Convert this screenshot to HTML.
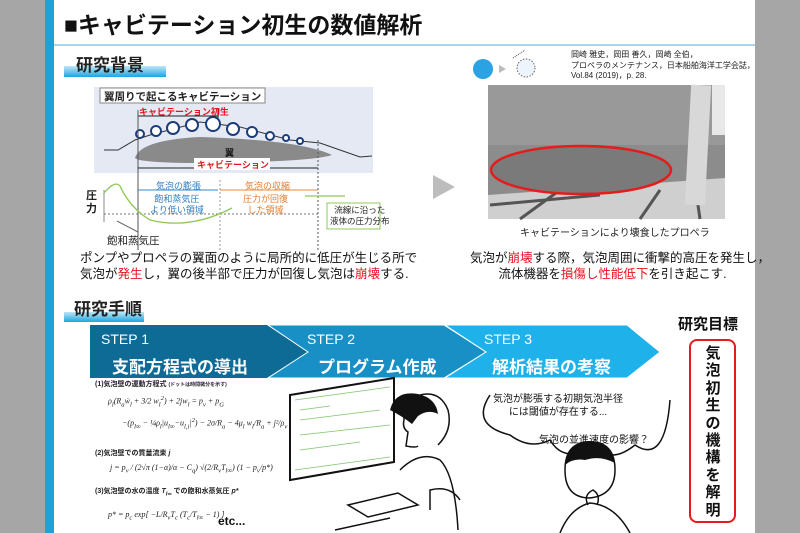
<!DOCTYPE html>
<html><head><meta charset="utf-8">
<style>
html,body{margin:0;padding:0;}
body{width:800px;height:533px;overflow:hidden;background:#fff;position:relative;font-family:"Liberation Sans","Noto Sans CJK JP",sans-serif;}
.a{position:absolute;white-space:nowrap;}
.ser{font-family:"Liberation Serif","Noto Serif CJK SC",serif;font-style:italic;}
.red{color:#e8141e;}
</style></head><body>
<div class="a" style="left:0;top:0;width:45px;height:533px;background:#a6a6a6"></div>
<div class="a" style="left:45px;top:0;width:9px;height:533px;background:#1ba1dc"></div>
<div class="a" style="left:755px;top:0;width:45px;height:533px;background:#a6a6a6"></div>
<div class="a" style="left:54px;top:44px;width:701px;height:2px;background:#a6d6e8"></div>

<div class="a" style="left:64px;top:6px;font-size:23px;font-weight:bold;color:#111">■キャビテーション初生の数値解析</div>

<div class="a" style="left:64px;top:66px;width:102px;height:11px;background:linear-gradient(#bfe6f6,#1aa6e0)"></div>
<div class="a" style="left:76px;top:51px;font-size:17px;font-weight:bold;color:#222">研究背景</div>
<div class="a" style="left:64px;top:312px;width:80px;height:10px;background:linear-gradient(#bfe6f6,#1aa6e0)"></div>
<div class="a" style="left:74px;top:295px;font-size:17px;font-weight:bold;color:#222">研究手順</div>

<svg class="a" style="left:0;top:0" width="800" height="533" xmlns="http://www.w3.org/2000/svg">
 <rect x="94" y="87" width="279" height="86" fill="#e4e9f4"/>
 <rect x="100" y="88" width="165" height="15" fill="#fff" stroke="#888" stroke-width="1"/>
 <path d="M135,158 Q140,140 200,137 Q300,140 332,155 Q310,162 200,163 Q140,163 135,158z" fill="#8a8a8a"/>
 <polyline points="104,150 118,150 135,140 150,135 200,122 240,127 290,140 320,143 340,150 360,157 372,156" fill="none" stroke="#333" stroke-width="1"/>
 <g fill="#fff" stroke="#1c3d7c" stroke-width="2">
  <circle cx="140" cy="134" r="4"/><circle cx="156" cy="131" r="5"/><circle cx="173" cy="128" r="6"/><circle cx="192" cy="125" r="6"/><circle cx="213" cy="124" r="7"/><circle cx="233" cy="129" r="6"/><circle cx="252" cy="132" r="5"/><circle cx="270" cy="136" r="4"/><circle cx="286" cy="138" r="3"/><circle cx="300" cy="141" r="3"/>
 </g>
 <line x1="138" y1="116" x2="218" y2="116" stroke="#222"/>
 <line x1="138" y1="110" x2="138" y2="250" stroke="#555"/>
 <line x1="218" y1="108" x2="218" y2="118" stroke="#222"/>
 <line x1="318" y1="140" x2="318" y2="250" stroke="#555" stroke-dasharray="2,2"/>
 <line x1="220" y1="180" x2="220" y2="250" stroke="#999" stroke-dasharray="2,2"/>
 <line x1="138" y1="168" x2="318" y2="168" stroke="#222"/>
 <rect x="194" y="158" width="76" height="12" fill="#fff"/>
 <line x1="104" y1="190" x2="104" y2="222" stroke="#888"/>
 <line x1="104" y1="214" x2="320" y2="214" stroke="#777" stroke-dasharray="2,2"/>
 <line x1="138" y1="190" x2="218" y2="190" stroke="#3a86c8"/>
 <line x1="220" y1="190" x2="318" y2="190" stroke="#ee8a3a"/>
 <path d="M104,193 Q115,180 120,186 Q130,208 150,220 Q190,230 232,208 M305,196 Q330,196 345,196" fill="none" stroke="#8fc85a" stroke-width="1.3"/>
 <line x1="117" y1="221" x2="138" y2="232" stroke="#666"/>
 <rect x="327" y="203" width="53" height="26" fill="#fff" stroke="#8fc85a"/>
 <polygon points="433,175 455,187 433,199" fill="#bdbdbd"/>
 <circle cx="483" cy="69" r="10" fill="#2aa2e4"/>
 <polygon points="499,65 506,69 499,73" fill="#bbb"/>
 <circle cx="526" cy="68" r="9" fill="#eef4fb" stroke="#666" stroke-dasharray="1.5,1.5"/>
 <path d="M513,58 l12,-8" stroke="#555" stroke-dasharray="1,1"/>
 <rect x="488" y="85" width="237" height="134" fill="#8c8c8c"/>
 <rect x="488" y="85" width="237" height="60" fill="#999"/>
 <polygon points="488,195 725,178 725,219 488,219" fill="#cfcfcf"/>
 <path d="M490,205 L600,195 M520,219 L560,190 M640,219 L660,190 M700,219 L690,150" stroke="#555" stroke-width="3"/>
 <rect x="688" y="85" width="20" height="120" fill="#d8d8d8" transform="rotate(3 697 145)"/>
 <rect x="712" y="85" width="13" height="50" fill="#e8e8e8"/>
 <ellipse cx="581" cy="170" rx="90" ry="24" fill="#7a7a7a" stroke="#e41c1c" stroke-width="2.5"/>
 <polygon points="90,325 267,325 308,352 267,378 90,378" fill="#0d6b95"/>
 <polygon points="268,325 444,325 486,352 444,378 268,378 308,352" fill="#1890c6" stroke="#fff" stroke-width="1"/>
 <polygon points="445,325 627,325 660,352 627,378 445,378 486,352" fill="#1fb1e9" stroke="#fff" stroke-width="1"/>
 <rect x="690" y="340" width="45" height="182" rx="7" fill="#fff" stroke="#e41c1c" stroke-width="2"/>
 <polygon points="290,395 394,378 394,462 290,480" fill="#fff" stroke="#111" stroke-width="2"/>
 <g stroke="#7cc46a" stroke-width="0.8"><line x1="295" y1="400" x2="390" y2="387"/><line x1="300" y1="410" x2="330" y2="406"/><line x1="300" y1="420" x2="380" y2="410"/><line x1="300" y1="435" x2="390" y2="425"/><line x1="300" y1="450" x2="360" y2="442"/><line x1="295" y1="470" x2="390" y2="457"/></g>
 <g fill="none" stroke="#111" stroke-width="1.5">
  <path d="M418,395 q-15,5 -14,25 q-2,8 4,12 l-2,14 q10,2 12,0"/>
  <path d="M420,395 q20,-5 28,15 q5,20 -10,35"/>
  <path d="M400,470 q20,-20 40,-10 q15,15 18,70"/>
  <path d="M348,505 l50,-12 l20,12 l-50,12 z"/>
  <path d="M335,530 l55,-12"/>
  <path d="M430,510 l0,-20 q20,-5 30,10"/>
  <path d="M490,395 q-20,30 20,40 q20,15 40,5 q15,25 45,5 q15,20 40,0 q30,20 35,-45"/>
  <path d="M565,470 q0,-28 25,-28 q25,0 25,28 q0,25 -25,28 q-25,0 -25,-28"/>
  <path d="M560,533 q10,-25 30,-30 q25,2 40,30"/>
  <path d="M588,505 q-5,-10 5,-15 q8,5 4,15"/>
 </g>
 <path d="M565,465 q5,-25 25,-24 q22,0 25,22 q-15,-8 -30,-3 q-12,-2 -20,5z" fill="#111"/>
 <path d="M390,410 q5,-20 28,-16 q18,4 20,20 q-10,-5 -20,2 l-6,8 q-10,-8 -22,-14z" fill="#111"/>
</svg>

<div class="a" style="left:104px;top:89px;font-size:10.5px;font-weight:bold;color:#222">翼周りで起こるキャビテーション</div>
<div class="a red" style="left:139px;top:105px;font-size:9px;font-weight:bold">キャビテーション初生</div>
<div class="a" style="left:225px;top:146px;font-size:9px;font-weight:bold;color:#111">翼</div>
<div class="a red" style="left:197px;top:158px;font-size:9px;font-weight:bold">キャビテーション</div>
<div class="a" style="left:86px;top:190px;font-size:11px;font-weight:bold;line-height:13px;color:#222">圧<br>力</div>
<div class="a" style="left:156px;top:179px;font-size:9px;color:#2e7fc3">気泡の膨張</div>
<div class="a" style="left:150px;top:194px;font-size:9px;color:#2e7fc3;line-height:11px;text-align:center">飽和蒸気圧<br>より低い領域</div>
<div class="a" style="left:245px;top:179px;font-size:9px;color:#e77e2c">気泡の収縮</div>
<div class="a" style="left:243px;top:194px;font-size:9px;color:#e77e2c;line-height:11px;text-align:center">圧力が回復<br>した領域</div>
<div class="a" style="left:330px;top:205px;font-size:8.5px;color:#222;line-height:11px;text-align:center">流線に沿った<br>液体の圧力分布</div>
<div class="a" style="left:107px;top:233px;font-size:10.5px;color:#222">飽和蒸気圧</div>
<div class="a" style="left:80px;top:250px;font-size:12.5px;color:#111;line-height:16px">ポンプやプロペラの翼面のように局所的に低圧が生じる所で<br>気泡が<span class="red">発生</span>し，翼の後半部で圧力が回復し気泡は<span class="red">崩壊</span>する.</div>

<div class="a" style="left:571px;top:50px;font-size:8px;color:#222;line-height:10.5px">岡崎 雅史，岡田 善久，岡崎 全伯，<br>プロペラのメンテナンス，日本船舶海洋工学会誌，<br>Vol.84 (2019)，p. 28.</div>
<div class="a" style="left:520px;top:224px;font-size:10px;color:#222">キャビテーションにより壊食したプロペラ</div>
<div class="a" style="left:470px;top:250px;width:285px;text-align:center;font-size:12.5px;color:#111;line-height:16px">気泡が<span class="red">崩壊</span>する際，気泡周囲に衝撃的高圧を発生し，<br>流体機器を<span class="red">損傷し性能低下</span>を引き起こす.</div>

<div class="a" style="left:101px;top:331px;font-size:14px;color:#fff">STEP 1</div>
<div class="a" style="left:112px;top:353px;font-size:17px;font-weight:bold;color:#fff">支配方程式の導出</div>
<div class="a" style="left:307px;top:331px;font-size:14px;color:#fff">STEP 2</div>
<div class="a" style="left:318px;top:353px;font-size:17px;font-weight:bold;color:#fff">プログラム作成</div>
<div class="a" style="left:484px;top:331px;font-size:14px;color:#fff">STEP 3</div>
<div class="a" style="left:492px;top:353px;font-size:17px;font-weight:bold;color:#fff">解析結果の考察</div>
<div class="a" style="left:678px;top:313px;font-size:15px;font-weight:bold;color:#111">研究目標</div>
<div class="a" style="left:703px;top:345px;width:20px;font-size:15px;font-weight:bold;line-height:17.4px;white-space:normal;text-align:center;color:#111">気泡初生の機構を解明</div>

<div class="a" style="left:95px;top:379px;font-size:7px;font-weight:bold;color:#222">(1)気泡壁の運動方程式 <span style="font-size:5px">(ドットは時間微分を示す)</span></div>
<div class="a ser" style="left:108px;top:395px;font-size:8px;color:#222">ρ<sub>l</sub>(R<sub>a</sub>ẇ<sub>l</sub> + 3/2 w<sub>l</sub><sup>2</sup>) + 2jw<sub>l</sub> = p<sub>v</sub> + p<sub>G</sub></div>
<div class="a ser" style="left:122px;top:417px;font-size:8px;color:#222">−(p<sub>l∞</sub> − ¼ρ<sub>l</sub>|u<sub>l∞</sub>−u<sub>l,i</sub>|<sup>2</sup>) − 2σ/R<sub>a</sub> − 4μ<sub>l</sub> w<sub>l</sub>/R<sub>a</sub> + j²/ρ<sub>v</sub></div>
<div class="a" style="left:95px;top:448px;font-size:7px;font-weight:bold;color:#222">(2)気泡壁での質量流束 <i>j</i></div>
<div class="a ser" style="left:110px;top:463px;font-size:8px;color:#222">j = p<sub>v</sub> / (2√π (1−α)/α − C<sub>q</sub>) √(2/R<sub>v</sub>T<sub>l∞</sub>) (1 − p<sub>v</sub>/p*)</div>
<div class="a" style="left:95px;top:486px;font-size:7px;font-weight:bold;color:#222">(3)気泡壁の水の温度 <i>T<sub>l∞</sub></i> での飽和水蒸気圧 <i>p*</i></div>
<div class="a ser" style="left:108px;top:510px;font-size:8px;color:#222">p* = p<sub>c</sub> exp[ −L/R<sub>v</sub>T<sub>c</sub> (T<sub>c</sub>/T<sub>l∞</sub> − 1) ]</div>
<div class="a" style="left:218px;top:514px;font-size:12px;font-weight:bold;color:#111">etc...</div>

<div class="a" style="left:493px;top:393px;font-size:10px;color:#111;line-height:13px;text-align:center">気泡が膨張する初期気泡半径<br>には閾値が存在する...</div>
<div class="a" style="left:539px;top:431px;font-size:10px;color:#111">気泡の並進速度の影響？</div>
</body></html>
